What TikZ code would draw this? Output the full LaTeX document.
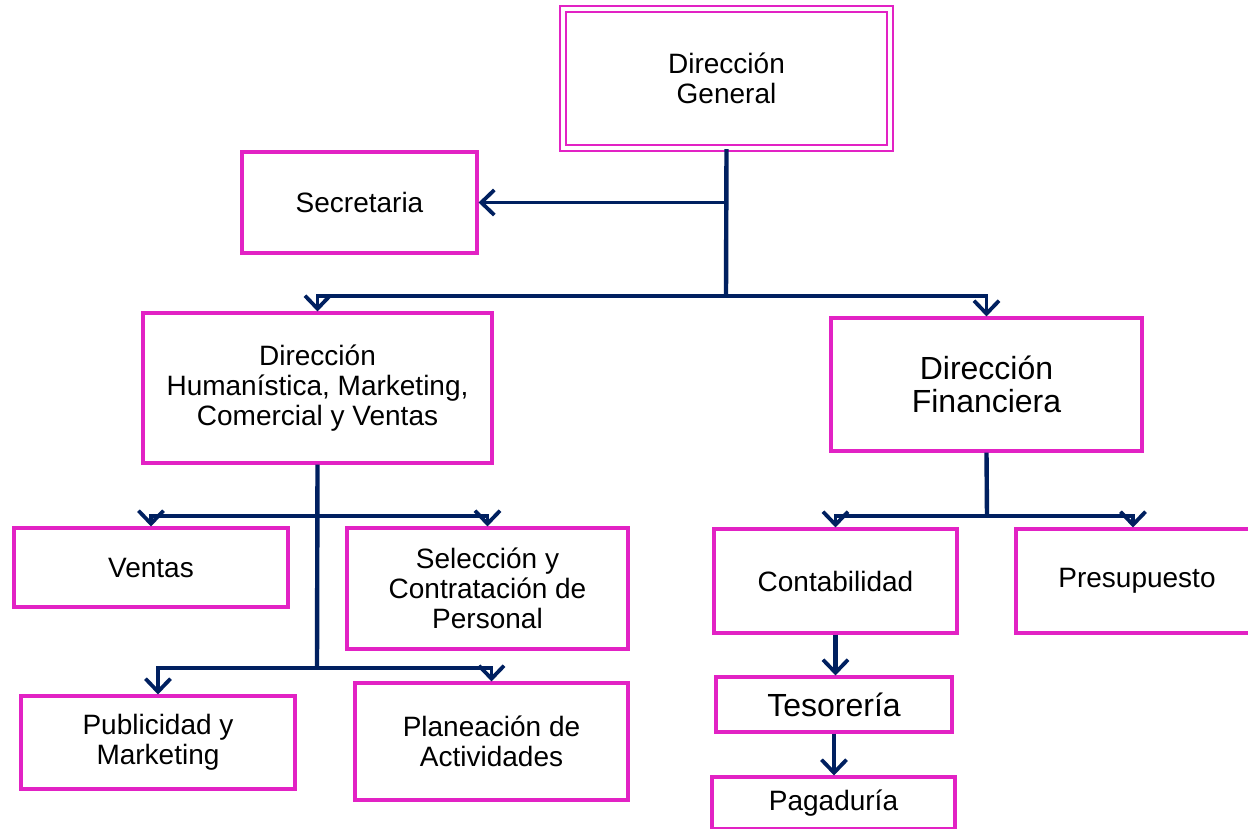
\documentclass[tikz,border=0pt]{standalone}
\usepackage{fontspec}
\setmainfont{Liberation Sans}
\usetikzlibrary{arrows.meta}
\definecolor{mag}{RGB}{226,34,196}
\definecolor{navy}{RGB}{0,32,96}
\tikzset{
  box/.style={draw=mag, line width=3.1pt, fill=white, inner sep=0pt, align=center,
    font=\fontsize{28}{30}\selectfont},
  bigtext/.style={font=\fontsize{32}{33}\selectfont},
  conn/.style={draw=navy, line width=3.6pt},
  arr/.style={conn, -{Straight Barb[length=13pt,width=25pt,line width=3.8pt]}},
  trunk/.style={draw=navy, line width=4.4pt}
}
\begin{document}
\begin{tikzpicture}[x=1pt,y=-1pt]
\clip (0,0) rectangle (1248,828);
\fill[white] (0,0) rectangle (1248,828);
% nodes
\node[box, draw=mag, line width=2.2pt, double=white, double distance=4pt,
  minimum width=327pt, minimum height=139pt] (dg) at (726.5,78.5) {Dirección\\General};
\node[box, minimum width=235pt, minimum height=101pt] (sec) at (359.5,202.5) {Secretaria};
\node[box, minimum width=349pt, minimum height=150pt] (dh) at (317.5,388) {Dirección\\Humanística, Marketing,\\Comercial y Ventas};
\node[box, bigtext, minimum width=311pt, minimum height=133pt] (df) at (986.5,384.5) {Dirección\\Financiera};
\node[box, minimum width=274pt, minimum height=79pt] (ven) at (151,567.5) {Ventas};
\node[box, minimum width=281pt, minimum height=121pt] (sel) at (487.5,588.5) {Selección y\\Contratación de\\Personal};
\node[box, minimum width=274pt, minimum height=93pt] (pub) at (158,742.5) {Publicidad y\\Marketing};
\node[box, minimum width=273pt, minimum height=117pt] (pla) at (491.5,741.5) {Planeación de\\Actividades};
\node[box, minimum width=243pt, minimum height=104pt] (con) at (835.5,581) {Contabilidad};
\node[box, minimum width=234pt, minimum height=104pt] (pre) at (1133,581) {\hspace*{8pt}Presupuesto};
\node[box, bigtext, minimum width=236pt, minimum height=55pt] (tes) at (834,704.5) {Tesorería};
\node[box, minimum width=243pt, minimum height=52pt] (pag) at (833.5,803) {Pagaduría};
% junctions
\coordinate (j1) at (726,296);
\coordinate (j2) at (317,516);
\coordinate (j3) at (317,668);
\coordinate (j4) at (987,516);
% connectors
\draw[trunk] (dg.south) -- (j1);
\draw[arr] (dg.south |- sec.east) -- (sec.east);
\draw[arr] (j1) -| (dh.north);
\draw[arr] (j1) -| (df.north);
\draw[trunk] (dh.south) -- (j3);
\draw[arr] (j2) -| (ven.north);
\draw[arr] (j2) -| (sel.north);
\draw[arr] (j3) -| (pub.north);
\draw[arr] (j3) -| (pla.north);
\draw[trunk] (df.south) -- (j4);
\draw[arr] (j4) -| (con.north);
\draw[arr] (j4) -| (pre.north);
\draw[arr, line width=4.2pt] (con.south) -- (con.south |- tes.north);
\draw[arr, line width=4.2pt] (tes.south) -- (tes.south |- pag.north);
\end{tikzpicture}
\end{document}
